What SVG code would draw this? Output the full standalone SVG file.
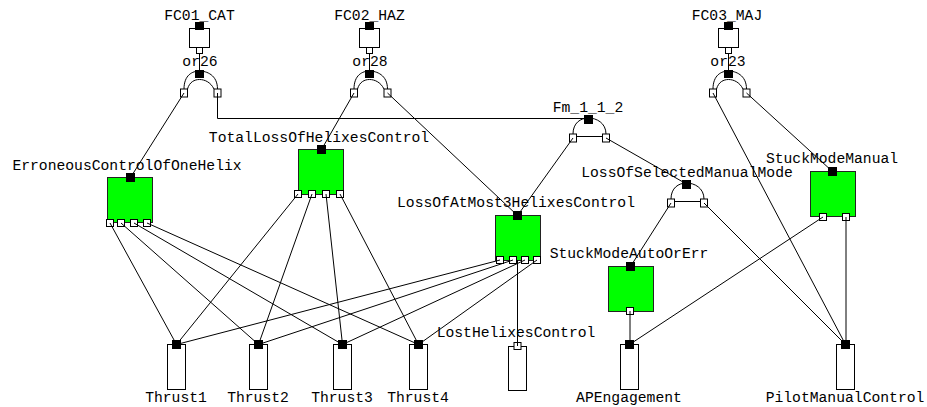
<svg xmlns="http://www.w3.org/2000/svg" width="927" height="407" viewBox="0 0 927 407">
<style>
text{font-family:"Liberation Mono","DejaVu Sans Mono",monospace;font-size:14.7px;fill:#000;text-anchor:middle}
.ln{fill:none;stroke:#000;stroke-width:1}
.box{fill:#fff;stroke:#000;stroke-width:1}
.grn{fill:#00ff00;stroke:#222;stroke-width:1}
.out{fill:#000}
.pt{fill:#fff;stroke:#000;stroke-width:1}
</style>
<defs>
<g id="orGate">
<path class="ln" d="M-15.5,19 C-15.5,5 -7,1 0,1 C7,1 18,5 18,19"/>
<path class="ln" d="M-12,19 C-10,12 -5,9.5 0,9.5 C5,9.5 11,12 14.5,19"/>
<rect class="out" x="-4.5" y="0" width="9" height="8"/>
<rect class="pt" x="-19" y="19" width="7" height="8"/>
<rect class="pt" x="14.5" y="19" width="7" height="8"/>
</g>
<g id="andGate">
<path class="ln" d="M-15.5,19 C-15.5,8 -8,3 0,3 C8,3 17.5,8 17.5,19"/>
<path class="ln" d="M-12,21.5 H14"/>
<rect class="out" x="-4.5" y="0" width="9" height="9"/>
<rect class="pt" x="-19" y="19" width="7" height="8"/>
<rect class="pt" x="14" y="19" width="7" height="8"/>
</g>
</defs>

<g id="FC01_CAT">
<rect class="box" x="189.5" y="28.5" width="20" height="19"/>
<text x="199.5" y="20">FC01_CAT</text>
<rect class="out" x="195" y="22" width="9" height="8"/>
<rect class="pt" x="196.5" y="47.5" width="6" height="6"/>
</g>
<g id="FC02_HAZ">
<rect class="box" x="359.5" y="28.5" width="20" height="19"/>
<text x="369.5" y="20">FC02_HAZ</text>
<rect class="out" x="365" y="22" width="9" height="8"/>
<rect class="pt" x="366.5" y="47.5" width="6" height="6"/>
</g>
<g id="FC03_MAJ">
<rect class="box" x="718.5" y="28.5" width="20" height="19"/>
<text x="727" y="20">FC03_MAJ</text>
<rect class="out" x="724" y="22" width="9" height="8"/>
<rect class="pt" x="725.5" y="47.5" width="6" height="6"/>
</g>

<g id="or26"><use href="#orGate" x="199.5" y="70"/><text x="200" y="66">or26</text></g>
<g id="or28"><use href="#orGate" x="369.5" y="70"/><text x="370" y="66">or28</text></g>
<g id="or23"><use href="#orGate" x="728.5" y="70"/><text x="728" y="66">or23</text></g>
<g id="Fm_1_1_2"><use href="#andGate" x="588.5" y="115"/><text x="588" y="112">Fm_1_1_2</text></g>
<g id="LossOfSelectedManualMode"><use href="#andGate" x="686.5" y="180"/><text x="687" y="177">LossOfSelectedManualMode</text></g>

<g id="ErroneousControlOfOneHelix">
<rect class="grn" x="107.5" y="177.5" width="45" height="45"/>
<rect class="out" x="126" y="173" width="9" height="9"/>
<rect class="pt" x="106.5" y="219.5" width="7" height="7"/>
<rect class="pt" x="117.5" y="219.5" width="7" height="7"/>
<rect class="pt" x="130.5" y="219.5" width="7" height="7"/>
<rect class="pt" x="143.5" y="219.5" width="7" height="7"/>
<text x="127" y="170">ErroneousControlOfOneHelix</text>
</g>
<g id="TotalLossOfHelixesControl">
<rect class="grn" x="298.5" y="149.5" width="45" height="45"/>
<rect class="out" x="317" y="145" width="9" height="9"/>
<rect class="pt" x="294.5" y="190.5" width="7" height="7"/>
<rect class="pt" x="308.5" y="190.5" width="7" height="7"/>
<rect class="pt" x="322.5" y="190.5" width="7" height="7"/>
<rect class="pt" x="336.5" y="190.5" width="7" height="7"/>
<text x="319" y="142">TotalLossOfHelixesControl</text>
</g>
<g id="LossOfAtMost3HelixesControl">
<rect class="grn" x="495.5" y="215.5" width="45" height="45"/>
<rect class="out" x="513" y="211" width="9" height="9"/>
<rect class="pt" x="496.5" y="256.5" width="7" height="7"/>
<rect class="pt" x="509.5" y="256.5" width="7" height="7"/>
<rect class="pt" x="521.5" y="256.5" width="7" height="7"/>
<rect class="pt" x="533.5" y="256.5" width="7" height="7"/>
<text x="516" y="207">LossOfAtMost3HelixesControl</text>
</g>
<g id="StuckModeAutoOrErr">
<rect class="grn" x="608.5" y="266.5" width="45" height="45"/>
<rect class="out" x="626" y="262" width="9" height="9"/>
<rect class="pt" x="626.5" y="307.5" width="7" height="7"/>
<text x="629" y="258">StuckModeAutoOrErr</text>
</g>
<g id="StuckModeManual">
<rect class="grn" x="810.5" y="171.5" width="45" height="45"/>
<rect class="out" x="828" y="167" width="9" height="9"/>
<rect class="pt" x="819.5" y="213.5" width="7" height="7"/>
<rect class="pt" x="842.5" y="213.5" width="7" height="7"/>
<text x="832" y="163">StuckModeManual</text>
</g>

<g id="Thrust1"><rect class="box" x="167.5" y="344.5" width="18" height="45"/><rect class="out" x="172" y="340" width="9" height="9"/><text x="176" y="402">Thrust1</text></g>
<g id="Thrust2"><rect class="box" x="249.5" y="344.5" width="18" height="45"/><rect class="out" x="254" y="340" width="9" height="9"/><text x="258" y="402">Thrust2</text></g>
<g id="Thrust3"><rect class="box" x="333.5" y="344.5" width="18" height="45"/><rect class="out" x="338" y="340" width="9" height="9"/><text x="342" y="402">Thrust3</text></g>
<g id="Thrust4"><rect class="box" x="409.5" y="344.5" width="18" height="45"/><rect class="out" x="414" y="340" width="9" height="9"/><text x="418" y="402">Thrust4</text></g>
<g id="LostHelixesControl"><rect class="box" x="508.5" y="346.5" width="18" height="44"/><rect class="pt" x="514" y="342.5" width="7" height="7"/><text x="516" y="337">LostHelixesControl</text></g>
<g id="APEngagement"><rect class="box" x="620.5" y="344.5" width="18" height="45"/><rect class="out" x="625" y="340" width="9" height="9"/><text x="629" y="402">APEngagement</text></g>
<g id="PilotManualControl"><rect class="box" x="836.5" y="344.5" width="18" height="45"/><rect class="out" x="841" y="340" width="9" height="9"/><text x="845" y="402">PilotManualControl</text></g>

<g id="connectors" class="ln">
<path d="M199.5,53.5V70"/>
<path d="M369.5,53.5V70"/>
<path d="M728.5,53.5V70"/>
<path d="M184,93L130.5,177.5"/>
<path d="M217.5,93V118.5H584"/>
<path d="M354,93L321.5,149.5"/>
<path d="M387.5,93L517.5,215.5"/>
<path d="M713,93L845.5,344.5"/>
<path d="M746.5,93L832.5,171.5"/>
<path d="M573,138L517.5,215.5"/>
<path d="M606,138L686.5,184"/>
<path d="M671,203L630.5,266.5"/>
<path d="M704,203L845.5,344.5"/>
<path d="M823,217L629.5,344.5"/>
<path d="M846,217V344.5"/>
<path d="M630,311V344.5"/>
<path d="M517.5,260V346"/>
<path d="M110,223L176.5,344.5"/>
<path d="M121,223L258.5,344.5"/>
<path d="M134,223L342.5,344.5"/>
<path d="M147,223L418.5,344.5"/>
<path d="M298,194L176.5,344.5"/>
<path d="M312,194L258.5,344.5"/>
<path d="M326,194L342.5,344.5"/>
<path d="M340,194L418.5,344.5"/>
<path d="M500,260L176.5,344.5"/>
<path d="M513,260L258.5,344.5"/>
<path d="M525,260L342.5,344.5"/>
<path d="M537,260L418.5,344.5"/>
</g>
</svg>
